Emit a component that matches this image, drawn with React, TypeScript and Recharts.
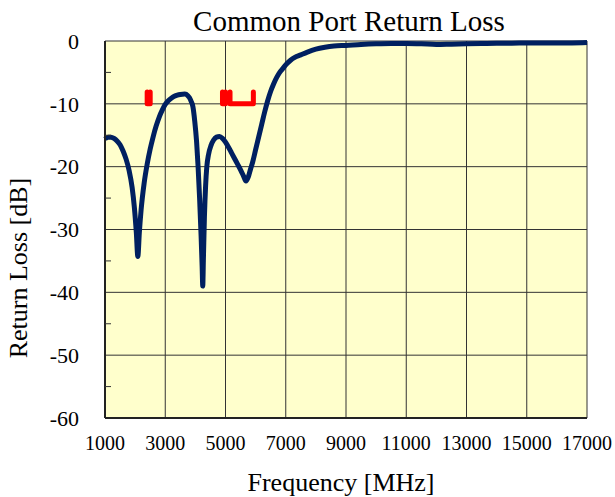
import React from "react";
import { LineChart, Line, XAxis, YAxis, CartesianGrid } from "recharts";

const freqMHz = [
  1000, 1100, 1200, 1300, 1400, 1500, 1600, 1700, 1800, 1900, 1975, 2040, 2090, 2140, 2200, 2300,
  2400, 2500, 2600, 2700, 2800, 2900, 3000, 3100, 3200, 3300, 3400, 3500, 3650, 3750, 3800, 3860,
  3920, 3980, 4040, 4090, 4140, 4190, 4225, 4245, 4265, 4300, 4340, 4380, 4440, 4520, 4600, 4700,
  4800, 4900, 5000, 5100, 5200, 5300, 5400, 5500, 5600, 5680, 5760, 5830, 5900, 6000, 6100, 6200,
  6300, 6400, 6500, 6600, 6700, 6800, 6900, 7000, 7150, 7300, 7500, 7700, 8000, 8300, 8600, 9000,
  9500, 10000, 10500, 11000, 11500, 12000, 12500, 13000, 13500, 14000, 14500, 15000, 15500, 16000,
  16500, 17000,
];
const returnLossDb = [
  -15.6, -15.3, -15.3, -15.5, -15.9, -16.5, -17.5, -18.8, -20.6, -23.3, -26.5, -30.5, -34.3, -30.5,
  -26.8, -22.6, -19.6, -17.2, -15.2, -13.5, -12.1, -11.0, -10.1, -9.5, -9.1, -8.8, -8.6, -8.5, -8.45,
  -8.7, -9.0, -9.6, -10.5, -12.8, -16.0, -20.0, -25.0, -31.0, -36.0, -39.0, -35.0, -28.0, -23.0,
  -20.0, -18.0, -16.6, -15.8, -15.3, -15.2, -15.5, -16.1, -16.9, -17.8, -18.7, -19.6, -20.5, -21.5,
  -22.3, -21.6, -20.4, -19.3, -17.3, -15.3, -13.3, -11.3, -9.5, -8.0, -6.8, -5.8, -5.0, -4.4, -3.8,
  -3.1, -2.6, -2.2, -1.8, -1.3, -1.0, -0.8, -0.7, -0.55, -0.45, -0.4, -0.4, -0.45, -0.55, -0.5, -0.45,
  -0.4, -0.35, -0.35, -0.3, -0.3, -0.3, -0.3, -0.25,
];

// band markers: [start, end] in MHz, drawn as brackets at the -10 dB limit
const bandEdges = [
  [2400, 2500],
  [4900, 5000],
  [5150, 5925],
];
const bandLimitDb = -10;
const bandTopDb = -8.1;

const xTicks = [1000, 3000, 5000, 7000, 9000, 11000, 13000, 15000, 17000];
const yLabelTicks = [0, -10, -20, -30, -40, -50, -60];
const yAllTicks = [0, -5, -10, -15, -20, -25, -30, -35, -40, -45, -50, -55, -60];

const data = freqMHz.map((f, i) => ({ f, rl: returnLossDb[i] }));
const brackets = bandEdges.map(([a, b]) => [
  { f: a, v: bandTopDb },
  { f: a, v: bandLimitDb },
  { f: b, v: bandLimitDb },
  { f: b, v: bandTopDb },
]);

const FONT = "'Liberation Serif', 'Times New Roman', serif";
const TICK_GAP = 26;

function YTick(props: any) {
  const { x, y, payload } = props;
  const v = payload.value;
  if (v % 10 !== 0) {
    return <line x1={x + TICK_GAP} x2={x + TICK_GAP + 6} y1={y} y2={y} stroke="#333" strokeWidth={1} />;
  }
  return (
    <text x={x} y={y} dy="0.355em" textAnchor="end" fontFamily={FONT} fontSize={22} fill="#000">
      {v}
    </text>
  );
}

export default function App() {
  return (
    <div style={{ position: "absolute", left: 0, top: 0, width: 615, height: 497, background: "#fff" }}>
      <LineChart width={615} height={497} data={data} margin={{ top: 41, right: 28, left: 0, bottom: 0 }}>
        <CartesianGrid
          fill="#FFFFCC"
          stroke="#333"
          horizontalValues={yLabelTicks}
          verticalValues={xTicks}
        />
        <XAxis
          dataKey="f"
          type="number"
          domain={[1000, 17000]}
          ticks={xTicks}
          interval={0}
          height={79}
          tickLine={false}
          tickSize={0}
          tickMargin={18}
          axisLine={{ stroke: "#222", strokeWidth: 2 }}
          tick={{ fill: "#000", fontSize: 20, fontFamily: FONT }}
        />
        <YAxis
          type="number"
          domain={[-60, 0]}
          ticks={yAllTicks}
          interval={0}
          width={105}
          tickLine={false}
          tickSize={0}
          tickMargin={TICK_GAP}
          axisLine={{ stroke: "#222", strokeWidth: 2 }}
          tick={<YTick />}
        />
        <Line
          type="monotone"
          dataKey="rl"
          stroke="#002060"
          strokeWidth={5}
          dot={false}
          isAnimationActive={false}
        />
        {brackets.map((pts, i) => (
          <Line
            key={i}
            data={pts}
            type="linear"
            dataKey="v"
            stroke="#FF0000"
            strokeWidth={5}
            strokeLinecap="round"
            strokeLinejoin="round"
            dot={false}
            isAnimationActive={false}
          />
        ))}
      </LineChart>
      <div
        style={{
          position: "absolute",
          left: 349,
          top: 7,
          transform: "translateX(-50%)",
          fontFamily: FONT,
          fontSize: 29,
          lineHeight: 1,
          whiteSpace: "nowrap",
        }}
      >
        Common Port Return Loss
      </div>
      <div
        style={{
          position: "absolute",
          left: 341,
          top: 470,
          transform: "translateX(-50%)",
          fontFamily: FONT,
          fontSize: 26,
          lineHeight: 1,
          whiteSpace: "nowrap",
        }}
      >
        Frequency [MHz]
      </div>
      <div
        style={{
          position: "absolute",
          left: 19,
          top: 268,
          transform: "translate(-50%, -50%) rotate(-90deg)",
          fontFamily: FONT,
          fontSize: 26,
          lineHeight: 1,
          whiteSpace: "nowrap",
        }}
      >
        Return Loss [dB]
      </div>
    </div>
  );
}
